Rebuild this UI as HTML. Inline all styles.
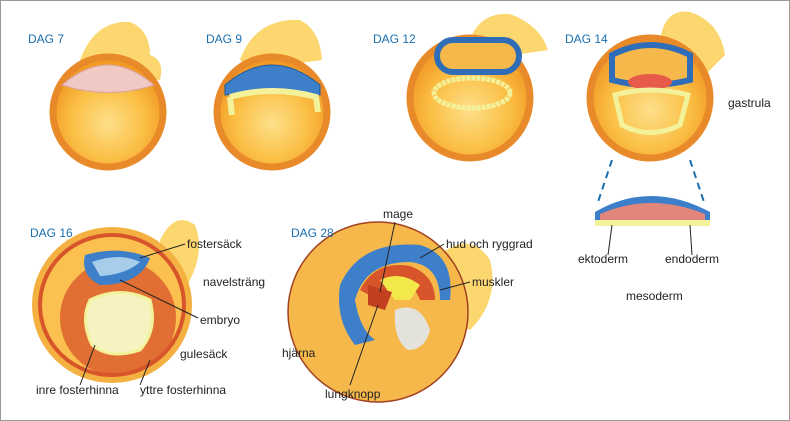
<!DOCTYPE html>
<html><head><meta charset="utf-8"><style>
html,body{margin:0;padding:0;background:#fff}
svg{display:block}
text{font-family:"Liberation Sans",sans-serif}
.lbl{font-size:12px;fill:#222}
.dag{font-size:12px;fill:#1a6fb0}
</style></head><body>
<svg width="790" height="421" viewBox="0 0 790 421">
<defs>
<radialGradient id="sph" cx="50%" cy="60%" r="55%">
<stop offset="0" stop-color="#fde08a"/><stop offset="0.6" stop-color="#fbbf45"/><stop offset="1" stop-color="#f19a25"/>
</radialGradient>
</defs>
<rect x="0.5" y="0.5" width="789" height="420" fill="#fff" stroke="#999"/>

<!-- DAG 7 -->
<g>
<path d="M80 60 Q95 20 130 22 Q150 30 150 55 Q165 60 160 80 L90 75 Z" fill="#fcd770"/>
<circle cx="108" cy="112" r="55" fill="url(#sph)" stroke="#e88a2a" stroke-width="7"/>
<path d="M62 85 Q108 45 154 85 Q108 100 62 85 Z" fill="#f0c8c4" stroke="#d9a3a0"/>
<text class="dag" x="28" y="43">DAG 7</text>
</g>
<!-- DAG 9 -->
<g>
<path d="M240 60 Q255 18 300 20 Q320 30 322 60 L250 70 Z" fill="#fcd770"/>
<circle cx="272" cy="112" r="55" fill="url(#sph)" stroke="#e88a2a" stroke-width="7"/>
<path d="M225 85 Q272 45 320 85 L320 95 Q272 88 225 95 Z" fill="#3d7fc9" stroke="#1f5a9a"/>
<path d="M230 97 Q272 85 316 97 L318 112" fill="none" stroke="#f3f29a" stroke-width="6"/>
<path d="M230 97 L232 115" fill="none" stroke="#f3f29a" stroke-width="6"/>
<text class="dag" x="206" y="43">DAG 9</text>
</g>
<!-- DAG 12 -->
<g>
<path d="M470 40 Q480 12 510 14 Q540 25 548 50 L480 60 Z" fill="#fcd770"/>
<circle cx="470" cy="98" r="60" fill="url(#sph)" stroke="#e88a2a" stroke-width="7"/>
<rect x="437" y="40" width="82" height="32" rx="16" fill="#f6b84a" stroke="#2f6db8" stroke-width="6"/>
<ellipse cx="472" cy="93" rx="38" ry="15" fill="none" stroke="#f3f29a" stroke-width="5" stroke-dasharray="4 1"/>
<text class="dag" x="373" y="43">DAG 12</text>
</g>
<!-- DAG 14 -->
<g>
<path d="M660 40 Q665 8 690 12 Q720 22 725 55 L700 80 Z" fill="#fcd770"/>
<circle cx="650" cy="98" r="60" fill="url(#sph)" stroke="#e88a2a" stroke-width="7"/>
<path d="M612 55 Q650 35 690 55 L690 80 Q650 90 612 80 Z" fill="#f6b84a" stroke="#2f6db8" stroke-width="6"/>
<ellipse cx="650" cy="82" rx="22" ry="8" fill="#e85a4a"/>
<path d="M615 95 Q650 85 688 95 L680 125 Q650 140 622 125 Z" fill="none" stroke="#f3f29a" stroke-width="5"/>
<text class="dag" x="565" y="43">DAG 14</text>
<text class="lbl" x="728" y="107">gastrula</text>
<line x1="612" y1="160" x2="597" y2="205" stroke="#1a6fb0" stroke-width="2" stroke-dasharray="7 5"/>
<line x1="690" y1="160" x2="705" y2="205" stroke="#1a6fb0" stroke-width="2" stroke-dasharray="7 5"/>
<path d="M595 212 Q650 180 710 212 L710 222 Q650 225 595 222 Z" fill="#3d7fc9"/>
<path d="M600 214 Q650 192 705 214 L705 220 L600 220 Z" fill="#e2857a"/>
<rect x="595" y="220" width="115" height="6" fill="#f3f29a"/>
<line x1="612" y1="225" x2="608" y2="255" stroke="#222"/>
<line x1="690" y1="225" x2="692" y2="255" stroke="#222"/>
<text class="lbl" x="578" y="263">ektoderm</text>
<text class="lbl" x="665" y="263">endoderm</text>
<text class="lbl" x="626" y="300">mesoderm</text>
</g>
<!-- DAG 16 -->
<g>
<path d="M160 240 Q175 210 195 225 Q205 250 190 280 Q180 300 165 300 Z" fill="#fcd770"/>
<ellipse cx="112" cy="305" rx="80" ry="78" fill="#f4b040"/>
<ellipse cx="112" cy="305" rx="72" ry="70" fill="#fbc04f" stroke="#d8542a" stroke-width="4"/>
<ellipse cx="118" cy="318" rx="58" ry="58" fill="#d8542a" opacity="0.75"/>
<path d="M85 255 Q120 245 150 258 Q140 285 100 285 Q80 275 85 255 Z" fill="#3d7fc9"/>
<path d="M92 262 Q120 252 140 262 Q125 275 100 276 Z" fill="#a7cdea"/>
<path d="M90 300 Q120 285 150 300 Q158 330 140 350 Q110 360 92 345 Q80 320 90 300 Z" fill="#f7f3c0" stroke="#f3f29a" stroke-width="3"/>
<text class="dag" x="30" y="237">DAG 16</text>
<text class="lbl" x="187" y="248">fostersäck</text>
<text class="lbl" x="203" y="286">navelsträng</text>
<text class="lbl" x="200" y="324">embryo</text>
<text class="lbl" x="180" y="358">gulesäck</text>
<text class="lbl" x="36" y="394">inre fosterhinna</text>
<text class="lbl" x="140" y="394">yttre fosterhinna</text>
<g stroke="#222" fill="none"><line x1="185" y1="244" x2="140" y2="258"/><line x1="198" y1="318" x2="120" y2="280"/><line x1="80" y1="385" x2="95" y2="345"/><line x1="140" y1="385" x2="150" y2="360"/></g>
</g>
<!-- DAG 28 -->
<g>
<path d="M440 255 Q470 230 490 260 Q500 300 470 330 L450 320 Z" fill="#fcd770"/>
<circle cx="378" cy="312" r="90" fill="#f6b84a" stroke="#a04020" stroke-width="1.5"/>
<path d="M340 285 Q360 240 420 245 Q455 255 450 300 L440 300 Q440 265 410 262 Q365 262 355 300 Q360 330 375 340 L355 345 Q335 320 340 285 Z" fill="#3d7fc9"/>
<path d="M360 290 Q375 260 410 266 Q435 275 435 300 L420 300 Q415 285 400 285 Q380 290 378 300 Z" fill="#d8542a"/>
<path d="M380 280 Q400 270 420 285 L410 300 L395 300 Z" fill="#f3e84a"/>
<path d="M395 310 Q420 300 430 330 Q425 350 408 350 Q393 340 395 310 Z" fill="#e3e3dc"/>
<path d="M368 285 L392 292 L385 310 L368 305 Z" fill="#c0401f"/>
<text class="dag" x="291" y="237">DAG 28</text>
<text class="lbl" x="383" y="218">mage</text>
<text class="lbl" x="446" y="248">hud och ryggrad</text>
<text class="lbl" x="472" y="286">muskler</text>
<text class="lbl" x="282" y="357">hjärna</text>
<text class="lbl" x="325" y="398">lungknopp</text>
<g stroke="#222" fill="none"><line x1="395" y1="222" x2="380" y2="292"/><line x1="444" y1="244" x2="420" y2="258"/><line x1="470" y1="282" x2="440" y2="290"/><line x1="350" y1="385" x2="378" y2="305"/></g>
</g>
</svg>
</body></html>
